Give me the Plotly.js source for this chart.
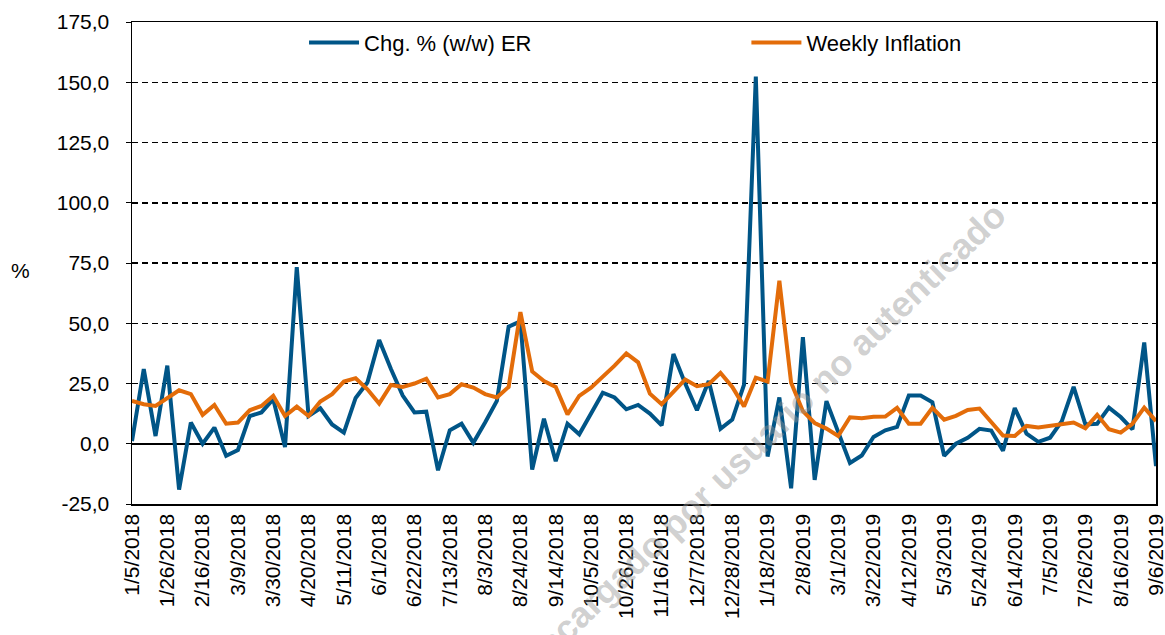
<!DOCTYPE html>
<html>
<head>
<meta charset="utf-8">
<script src="https://cdn.plot.ly/plotly-3.0.1.min.js"></script>
<style>
  body { margin: 0; background: #fff; }
  #chart { width: 1165px; height: 635px; }
</style>
</head>
<body>
<div id="chart"></div>
<script>
// weekly observations, Fridays from 1/5/2018 to 9/6/2019
var startDate = Date.UTC(2018, 0, 5);
var weeks = [];
for (var k = 0; k < 88; k++) {
  var d = new Date(startDate + k * 7 * 86400000);
  weeks.push((d.getUTCMonth() + 1) + '/' + d.getUTCDate() + '/' + d.getUTCFullYear());
}

// Chg. % (w/w) ER
var erChange = [
  1.1, 31, 3.2, 32.4, -19, 8.8, 0, 6.7, -5, -2.6,
  11.5, 13, 18.5, -1.4, 73.3, 11.5, 14.7, 8, 4.6, 19,
  25.4, 43, 31, 20, 13, 13.3, -11, 5.6, 8.3, 0.4,
  8.8, 17.8, 48.6, 50.8, -10.7, 10.4, -7.2, 8.3, 3.9, 12.5,
  21.2, 19.2, 14.3, 16.1, 12.5, 7.6, 37.2, 25, 13.9, 26,
  6.2, 10, 24.5, 152.4, -5.3, 19.2, -18.5, 44.2, -15, 17.7,
  5.1, -8, -4.9, 2.8, 5.6, 7, 20, 20, 17.2, -5,
  0, 2.5, 6.2, 5.5, -2.9, 14.8, 4.2, 0.8, 2.5, 9.4,
  23.6, 8, 8.3, 15, 11.1, 6, 42, -9.3
];

// Weekly Inflation
var inflation = [
  17.8, 16.4, 15.7, 19.2, 22.2, 20.6, 12, 16.1, 8.3, 8.8,
  13.9, 15.7, 19.9, 11.5, 15.4, 11.5, 17.5, 20.6, 25.8, 27.2,
  22.6, 16.7, 24.4, 23.6, 25, 27, 19.2, 20.6, 24.7, 23.3,
  20.6, 19.2, 23.6, 54.6, 30, 26, 23.6, 12.2, 19.9, 23.3,
  27.8, 32.4, 37.5, 33.8, 20.8, 16.4, 21.5, 26.7, 23.9, 24.7,
  29.4, 23.6, 15.5, 27.4, 25.8, 67.6, 25.3, 13.5, 8.6, 6.3,
  3.2, 11, 10.6, 11.2, 11.3, 14.9, 8.3, 8.3, 14.9, 10,
  11.6, 14, 14.6, 9, 3.4, 3.2, 7.4, 6.7, 7.4, 8,
  8.8, 6.4, 12, 6, 4.6, 8.3, 15, 9.4
];

var xTickLabels = [
  '1/5/2018', '1/26/2018', '2/16/2018', '3/9/2018', '3/30/2018', '4/20/2018',
  '5/11/2018', '6/1/2018', '6/22/2018', '7/13/2018', '8/3/2018', '8/24/2018',
  '9/14/2018', '10/5/2018', '10/26/2018', '11/16/2018', '12/7/2018', '12/28/2018',
  '1/18/2019', '2/8/2019', '3/1/2019', '3/22/2019', '4/12/2019', '5/3/2019',
  '5/24/2019', '6/14/2019', '7/5/2019', '7/26/2019', '8/16/2019', '9/6/2019'
];

var yTickVals = [-25, 0, 25, 50, 75, 100, 125, 150, 175];
var yTickText = ['-25,0', '0,0', '25,0', '50,0', '75,0', '100,0', '125,0', '150,0', '175,0'];

var font = 'Arial, "Liberation Sans", sans-serif';

var traces = [
  {
    type: 'scatter', mode: 'lines', name: 'Chg. % (w/w) ER',
    x: weeks, y: erChange, legend: 'legend',
    line: { color: '#005587', width: 4 }
  },
  {
    type: 'scatter', mode: 'lines', name: 'Weekly Inflation',
    x: weeks, y: inflation, legend: 'legend2',
    line: { color: '#e36c09', width: 4 }
  }
];

var legendBase = {
  orientation: 'h', xanchor: 'left', yanchor: 'middle', y: 0.957,
  itemwidth: 50, bgcolor: 'rgba(0,0,0,0)', font: { size: 22 }
};

var layout = {
  width: 1165, height: 635,
  margin: { l: 132, r: 9, t: 22, b: 131 },
  paper_bgcolor: '#fff', plot_bgcolor: '#fff',
  font: { family: font, size: 21, color: '#000' },
  showlegend: true,
  legend: Object.assign({}, legendBase, { x: 0.168 }),
  legend2: Object.assign({}, legendBase, { x: 0.6 }),
  xaxis: {
    type: 'category', range: [0, 87],
    tickvals: xTickLabels, ticktext: xTickLabels,
    tickangle: -90, ticks: '', showgrid: false,
    showline: true, mirror: true, linecolor: '#000', linewidth: 1.5,
    tickfont: { size: 21 }, automargin: false
  },
  yaxis: {
    range: [-25, 175], tickvals: yTickVals, ticktext: yTickText,
    ticks: 'outside', ticklen: 5, tickcolor: '#000', ticklabelstandoff: 12,
    showgrid: true, gridcolor: '#000', gridwidth: 1.5, griddash: '6px,4px',
    zeroline: true, zerolinecolor: '#000', zerolinewidth: 1.5,
    showline: true, mirror: true, linecolor: '#000', linewidth: 1.5,
    tickfont: { size: 21 }, automargin: false
  },
  annotations: [
    {
      xref: 'paper', yref: 'paper', x: -0.109, y: 0.485,
      xanchor: 'center', yanchor: 'middle',
      text: '%', showarrow: false, font: { size: 21 }
    },
    {
      xref: 'paper', yref: 'paper', x: 0.608, y: 0.122,
      xanchor: 'center', yanchor: 'middle',
      text: '<b>Descargado por usuario no autenticado</b>', textangle: -44,
      showarrow: false, font: { size: 36, color: 'rgba(150,150,150,0.45)' }
    }
  ]
};

Plotly.newPlot('chart', traces, layout, { staticPlot: true });
</script>
</body>
</html>
